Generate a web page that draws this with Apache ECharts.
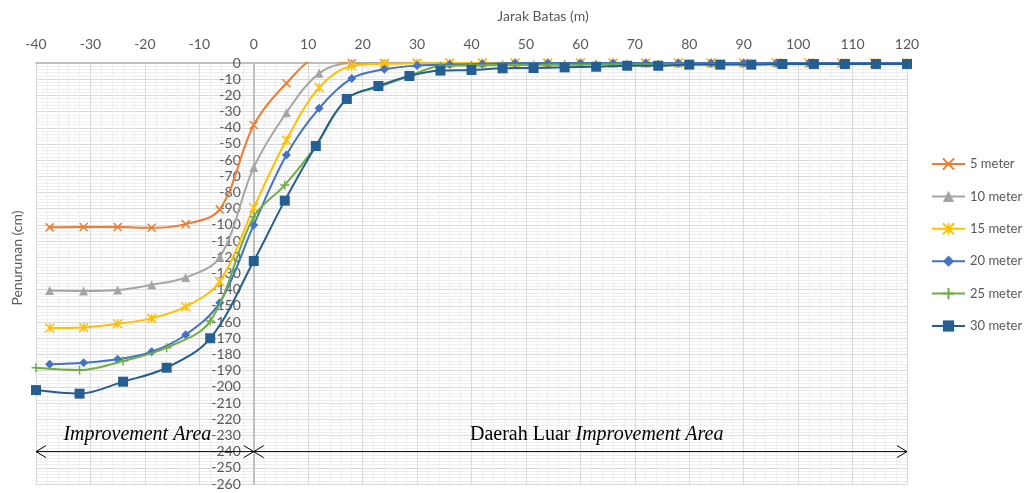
<!DOCTYPE html>
<html><head><meta charset="utf-8">
<script src="https://cdn.jsdelivr.net/npm/echarts@6/dist/echarts.min.js"></script>
<style>html,body{margin:0;padding:0;background:#fff}#c{width:1025px;height:493px}</style>
</head><body><div id="c"></div>
<script>
// ---- data ----
const seriesNames = ['5 meter','10 meter','15 meter','20 meter','25 meter','30 meter'];
const xA = [-37.5,-31.25,-25,-18.75,-12.5,-6.25,0,6,12,18,24,30,36,42,48,54,60,66,72,78,84,90,96,102,108,114,120];
const xB = [-40,-32,-24,-16,-8,0,5.7,11.4,17.1,22.9,28.6,34.3,40,45.7,51.4,57.1,62.9,68.6,74.3,80,85.7,91.4,97.1,102.9,108.6,114.3,120];
const y5  = [-101.5,-101.3,-101.3,-101.8,-99.5,-90.4,-38.3,-12.5,3,0,0,0,0,0,0,0,0,0,0,0,0,0,0,0,0,0,0];
const y10 = [-140.5,-140.8,-140.2,-137,-132.5,-120,-64.5,-30.7,-6.4,0,0,0,0,0,0,0,0,0,0,0,0,0,0,0,0,0,0];
const y15 = [-163.7,-163.3,-161,-157.7,-150.5,-135,-89.4,-47.6,-15.2,-1.9,-0.5,-0.2,0,0,0,0,0,0,0,0,0,0,0,0,0,0,0];
const y20 = [-186.1,-185.1,-183,-178.3,-167.8,-148,-100,-56.8,-28,-9.5,-3.9,-1.6,-1,-0.5,0,0,0,0,0,0,0,0,0,0,0,0,0];
const y25 = [-188.2,-189.6,-184,-175.8,-159.4,-95,-75.4,-51.3,-22,-14.8,-8,-1.8,-1.5,-1.3,-1.2,-1.1,-1,-1,-0.9,-0.9,-0.8,-0.8,-0.7,-0.7,-0.6,-0.6,-0.6];
const y30 = [-202,-204.2,-196.8,-188.2,-170,-122.3,-85,-51.3,-22.2,-14.2,-8,-4.7,-4.3,-3.3,-3.1,-2.7,-2.3,-1.7,-1.7,-1,-1,-1,-0.6,-0.6,-0.6,-0.6,-0.6];
const xRange = [-40, 120], xStep = 10;
const yRange = [-260, 0], yStep = 10;
// annotations (data coordinates)
const arrowY = -240;
const arrowSpans = [[-40, 0], [0, 120]];
const leftLabel = {x: -7.8, y: -229.5, text: 'Improvement Area'};
const rightLabel = {x: 63, y: -229.5, plain: 'Daerah Luar ', italic: 'Improvement Area'};

// ---- styles ----
const colors = ['#ED7D31','#A5A5A5','#FFC000','#4472C4','#70AD47','#255E91'];
const FONT = 'Lato';
const TXT = '#595959';
const GRID = {left: 36, right: 118, top: 63, bottom: 9};
const SYM_X = 'path://M0,0L10,10M10,0L0,10';
const SYM_STAR = 'path://M5,0L5,10M0,0L10,10M10,0L0,10';
const SYM_PLUS = 'path://M5,0L5,10M0,5L10,5';
const defs = [
  {xs:xA, ys:y5,  sym:SYM_X, size:8, stroke:true},
  {xs:xA, ys:y10, sym:'triangle', size:9, stroke:false},
  {xs:xA, ys:y15, sym:SYM_STAR, size:9, stroke:true},
  {xs:xA, ys:y20, sym:'diamond', size:9, stroke:false},
  {xs:xB, ys:y25, sym:SYM_PLUS, size:9, stroke:true},
  {xs:xB, ys:y30, sym:'rect', size:10, stroke:false}
];

const series = defs.map((d, i) => ({
  name: seriesNames[i],
  type: 'line',
  smooth: 0.35,
  data: d.xs.map((x, k) => [x, d.ys[k]]),
  symbol: d.sym,
  symbolSize: d.size,
  symbolKeepAspect: true,
  showAllSymbol: true,
  clip: true,
  lineStyle: {color: colors[i], width: 2},
  itemStyle: d.stroke ? {color: colors[i], borderColor: colors[i], borderWidth: 1.5}
                      : {color: colors[i], borderWidth: 0},
  emphasis: {disabled: true},
  z: 2 + i * 0.01
}));

const chart = echarts.init(document.getElementById('c'), null, {renderer: 'canvas'});
chart.setOption({
  animation: false,
  backgroundColor: '#fff',
  grid: Object.assign({containLabel: false, outerBoundsMode: 'none'}, GRID),
  xAxis: {
    type: 'value', position: 'top', min: xRange[0], max: xRange[1], interval: xStep,
    axisLine: {show: true, onZero: false, lineStyle: {color: '#BFBFBF', width: 2}},
    axisTick: {show: false},
    axisLabel: {color: TXT, fontSize: 14, fontFamily: FONT, margin: 12},
    splitLine: {show: true, showMinLine: true, showMaxLine: true, lineStyle: {color: '#D9D9D9', width: 1}},
    minorTick: {show: false, splitNumber: 5},
    minorSplitLine: {show: true, lineStyle: {color: '#EEEEEE', width: 1}}
  },
  yAxis: {
    type: 'value', position: 'left', min: yRange[0], max: yRange[1], interval: yStep,
    axisLine: {show: true, onZero: false, lineStyle: {color: '#BFBFBF', width: 2}},
    axisTick: {show: false},
    axisLabel: {color: TXT, fontSize: 14, fontFamily: FONT, margin: 13},
    splitLine: {show: true, showMinLine: true, showMaxLine: true, lineStyle: {color: '#D9D9D9', width: 1}},
    minorTick: {show: false, splitNumber: 5},
    minorSplitLine: {show: true, lineStyle: {color: '#EEEEEE', width: 1}}
  },
  legend: {
    orient: 'vertical', left: 926, top: 152, itemWidth: 33, itemHeight: 14, itemGap: 18.4,
    textStyle: {color: TXT, fontSize: 13, fontFamily: FONT, lineHeight: 14},
    data: seriesNames
  },
  series: series
});

// move the y axis onto x = 0 using the chart's own scale
const P = (x, y) => chart.convertToPixel({gridIndex: 0}, [x, y]);
const zeroX = P(0, 0)[0];
chart.setOption({yAxis: {offset: -(zeroX - GRID.left)}});

// annotations placed through the chart's own scales
const g = [];
const head = 10, hw = 6;
arrowSpans.forEach(([a, b]) => {
  const p1 = P(a, arrowY), p2 = P(b, arrowY);
  g.push({type: 'line', shape: {x1: p1[0], y1: p1[1], x2: p2[0], y2: p2[1]}, style: {stroke: '#000', lineWidth: 1}, z: 100});
  g.push({type: 'polyline', shape: {points: [[p1[0] + head, p1[1] - hw], [p1[0], p1[1]], [p1[0] + head, p1[1] + hw]]}, style: {stroke: '#000', lineWidth: 1, fill: null}, z: 100});
  g.push({type: 'polyline', shape: {points: [[p2[0] - head, p2[1] - hw], [p2[0], p2[1]], [p2[0] - head, p2[1] + hw]]}, style: {stroke: '#000', lineWidth: 1, fill: null}, z: 100});
});
const pl = P(leftLabel.x, leftLabel.y);
g.push({type: 'text', x: pl[0], y: pl[1], z: 100, style: {text: leftLabel.text, font: 'italic 20px "Liberation Serif"', fill: '#000', textAlign: 'right', textVerticalAlign: 'middle'}});
const pr = P(rightLabel.x, rightLabel.y);
g.push({type: 'text', x: pr[0], y: pr[1], z: 100, style: {
  text: '{n|' + rightLabel.plain + '}{i|' + rightLabel.italic + '}',
  rich: {n: {font: '20px "Liberation Serif"', fill: '#000'}, i: {font: 'italic 20px "Liberation Serif"', fill: '#000'}},
  textAlign: 'center', textVerticalAlign: 'middle'}});
// axis titles
g.push({type: 'text', x: 543, y: 16, style: {text: 'Jarak Batas (m)', font: '14px ' + FONT, fill: TXT, textAlign: 'center', textVerticalAlign: 'middle'}});
g.push({type: 'text', x: 17, y: 258, rotation: Math.PI / 2, style: {text: 'Penurunan (cm)', font: '14px ' + FONT, fill: TXT, textAlign: 'center', textVerticalAlign: 'middle'}});
chart.setOption({graphic: g});
</script>
</body></html>
